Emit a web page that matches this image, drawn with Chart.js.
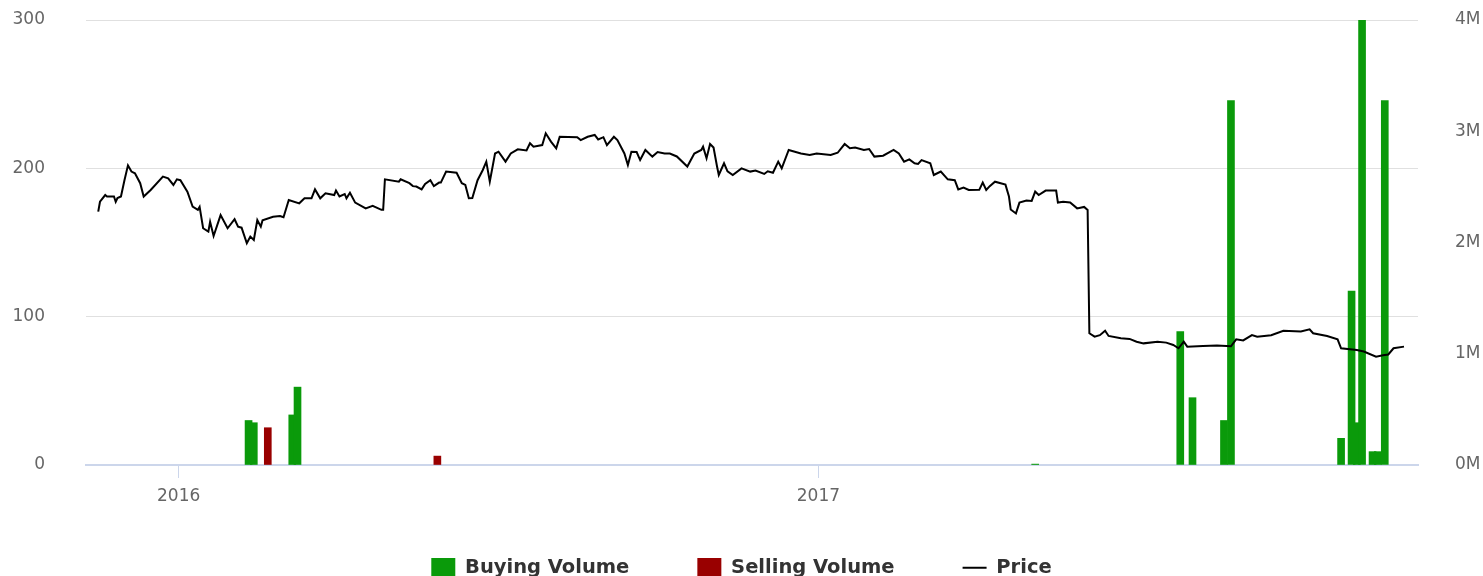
<!DOCTYPE html>
<html>
<head>
<meta charset="utf-8">
<script src="https://cdn.jsdelivr.net/npm/chart.js@4.4.0/dist/chart.umd.min.js"></script>
<style>
  html, body { margin: 0; padding: 0; background: #fff; }
  #wrap { width: 1483px; height: 576px; }
</style>
</head>
<body>
<div id="wrap"><canvas id="chart"></canvas></div>
<script>
// days counted from 1 Jan 2016
var priceDays = [-46, -45, -42, -41, -37, -36, -35, -33, -31, -29, -27, -25, -22, -20, -16, -9, -6, -3, -1, 1,
    5, 8, 11, 12, 14, 17, 18, 20, 24, 28, 32, 34, 36, 39, 41, 43, 45, 47, 48, 54,
    58, 60, 63, 69, 72, 76, 78, 81, 84, 89, 90, 92, 95, 96, 98, 101, 107, 111, 116, 117,
    118, 126, 127, 132, 134, 136, 139, 141, 144, 146, 149, 150, 153, 159, 162, 164, 166, 168, 171, 174,
    176, 178, 181, 183, 187, 190, 194, 199, 201, 203, 208, 210, 213, 216, 218, 228, 230, 234, 238, 240,
    243, 245, 249, 251, 255, 257, 259, 262, 264, 267, 271, 274, 278, 281, 285, 291, 295, 299, 300, 302,
    304, 306, 308, 309, 312, 314, 317, 322, 327, 330, 335, 337, 340, 343, 345, 349, 356, 361, 365, 373,
    377, 381, 384, 387, 392, 395, 398, 403, 409, 412, 415, 418, 421, 423, 425, 430, 432, 436, 440, 444,
    446, 449, 452, 458, 460, 462, 464, 467, 473, 475, 476, 479, 481, 485, 488, 490, 492, 496, 502, 503,
    506, 510, 514, 518, 520, 521, 524, 527, 530, 532, 539, 544, 548, 552, 560, 565, 569, 572, 575, 577,
    586, 594, 602, 605, 609, 614, 617, 625, 632, 642, 647, 649, 657, 663, 665, 674, 678, 685, 689, 692,
    695, 701];
var priceValues = [170.8, 177.5, 182, 181, 181, 177.5, 180, 181, 192, 202, 197.8, 196.7, 190, 181, 185.4, 194.4, 193.3, 188.8, 192.6, 192,
    184.3, 174.2, 172, 174, 159.6, 157.3, 164, 154.4, 168.5, 159.6, 165.7, 160.7, 160, 149.5, 154, 151.7, 165.2, 160.7, 165, 167.4,
    167.9, 167, 178.7, 176.4, 179.8, 179.8, 185.8, 179.8, 183.2, 182, 185, 181, 182.7, 179.8, 183.6, 176.9, 173, 174.7, 172, 172,
    192.6, 191, 192.6, 190, 188, 187.7, 185.8, 189.5, 192, 188, 190.4, 190.4, 197.8, 197, 190, 188.8, 179.8, 180, 192, 198.9,
    204.5, 191, 210, 211.2, 204.5, 210, 212.8, 212, 216.9, 214.6, 215.7, 223.6, 218, 213.5, 221.3, 220.9, 219, 221.3, 222.5, 219.5,
    221, 215.7, 221.3, 219, 210, 202.2, 211.2, 211, 205.6, 212.4, 207.9, 211, 210, 210, 208, 201.2, 210, 212.4, 214.6, 206.8,
    216.4, 214, 201.2, 195.5, 203.4, 198, 195.5, 200, 197.8, 198.5, 196.2, 198, 197, 204.5, 200, 212.4, 210, 209, 210, 209,
    210.5, 216.4, 213.5, 214, 212.4, 213, 207.9, 208.5, 212.4, 210, 204.5, 206, 203.4, 203, 205.5, 203.4, 195.5, 197.8, 192.6, 192,
    185.8, 187, 185.4, 185.5, 190.4, 185.4, 188, 191, 189, 181, 172.3, 169.6, 176.9, 178.3, 178, 184.3, 182, 185, 185, 176.9,
    177.5, 177, 173, 174, 172, 88.8, 86.5, 87.5, 90.5, 87, 85.4, 85, 83.1, 82, 83.1, 82.5, 80.9, 78.7, 83.1, 79.8,
    80.2, 80.5, 80, 84.7, 84, 87.6, 86.5, 87.5, 90.5, 90, 91.5, 88.8, 87, 84.7, 78.7, 77.5, 76.5, 73, 74, 74.5,
    78.7, 79.8];

var buyDays = [40, 43, 65, 68, 490, 573, 580, 598, 602, 665, 671, 674, 677, 683, 686, 690];
var buyVolume = [400000, 380000, 450000, 700000, 8000, 1200000, 605000, 400000, 3275000, 240000, 1564000, 380000, 4000000, 120000, 120000, 3275000];
var sellDays = [51, 148];
var sellVolume = [335000, 80000];

var xTickDays = [0, 366];
var xTickLabels = ['2016', '2017'];

function pairs(xs, ys) {
    return xs.map(function(x, i) { return { x: x, y: ys[i] }; });
}

var axisFont = { family: 'DejaVu Sans', size: 17 };

new Chart(document.getElementById('chart'), {
    data: {
        datasets: [{
            type: 'line',
            label: 'Price',
            data: pairs(priceDays, priceValues),
            borderColor: '#000000',
            backgroundColor: '#000000',
            borderWidth: 2,
            pointRadius: 0,
            tension: 0,
            yAxisID: 'y',
            order: 0
        }, {
            type: 'bar',
            label: 'Buying Volume',
            data: pairs(buyDays, buyVolume),
            backgroundColor: '#0a9a0a',
            barThickness: 7,
            grouped: false,
            yAxisID: 'y1',
            order: 1
        }, {
            type: 'bar',
            label: 'Selling Volume',
            data: pairs(sellDays, sellVolume),
            backgroundColor: '#990000',
            barThickness: 7,
            grouped: false,
            yAxisID: 'y1',
            order: 2
        }]
    },
    options: {
        responsive: true,
        maintainAspectRatio: false,
        animation: false,
        layout: { padding: { top: 20, left: 0, right: 0, bottom: 0 } },
        scales: {
            x: {
                type: 'linear',
                min: -53,
                max: 709,
                offset: false,
                afterBuildTicks: function(scale) {
                    scale.ticks = xTickDays.map(function(d) { return { value: d }; });
                },
                afterFit: function(scale) {
                    scale.height = 25;
                    scale.paddingLeft = 0;
                    scale.paddingRight = 0;
                    // labels hang below the short axis box, so do not clip them to it
                    scale._computeLabelArea = function() { return null; };
                },
                ticks: {
                    color: '#666666',
                    font: axisFont,
                    padding: 8,
                    maxRotation: 0,
                    autoSkip: false,
                    callback: function(value) {
                        var i = xTickDays.indexOf(value);
                        return i >= 0 ? xTickLabels[i] : '';
                    }
                },
                grid: {
                    offset: false,
                    drawOnChartArea: false,
                    color: '#ccd6eb',
                    tickLength: 13,
                    tickWidth: 1
                },
                border: { color: '#ccd6eb', width: 2 }
            },
            y: {
                position: 'left',
                min: 0,
                max: 300,
                afterFit: function(scale) {
                    scale.width = 86;
                    scale.paddingTop = 0;
                    scale.paddingBottom = 0;
                },
                ticks: { stepSize: 100, color: '#666666', font: axisFont, padding: 41 },
                grid: { color: '#e0e0e0', drawTicks: false },
                border: { display: false }
            },
            y1: {
                position: 'right',
                min: 0,
                max: 4000000,
                afterFit: function(scale) {
                    scale.width = 65;
                    scale.paddingTop = 0;
                    scale.paddingBottom = 0;
                },
                ticks: {
                    stepSize: 1000000,
                    color: '#666666',
                    font: axisFont,
                    padding: 37,
                    callback: function(value) { return (value / 1000000) + 'M'; }
                },
                grid: { drawOnChartArea: false, drawTicks: false },
                border: { display: false }
            }
        },
        plugins: {
            tooltip: { enabled: false },
            legend: {
                position: 'bottom',
                maxHeight: 86,
                labels: {
                    color: '#333333',
                    font: { family: 'DejaVu Sans', size: 19.5, weight: 'bold' },
                    usePointStyle: true,
                    pointStyleWidth: 24,
                    boxHeight: 20,
                    padding: 68,
                    generateLabels: function(chart) {
                        var order = [1, 2, 0];
                        return order.map(function(i) {
                            var ds = chart.data.datasets[i];
                            if (ds.type === 'line') {
                                return { text: ds.label, datasetIndex: i, fillStyle: '#000', strokeStyle: '#000',
                                    lineWidth: 2, pointStyle: 'line', fontColor: '#333333' };
                            }
                            return { text: ds.label, datasetIndex: i, fillStyle: ds.backgroundColor,
                                strokeStyle: ds.backgroundColor, lineWidth: 0, pointStyle: 'rect', fontColor: '#333333' };
                        });
                    }
                }
            }
        }
    }
});
</script>
</body>
</html>
